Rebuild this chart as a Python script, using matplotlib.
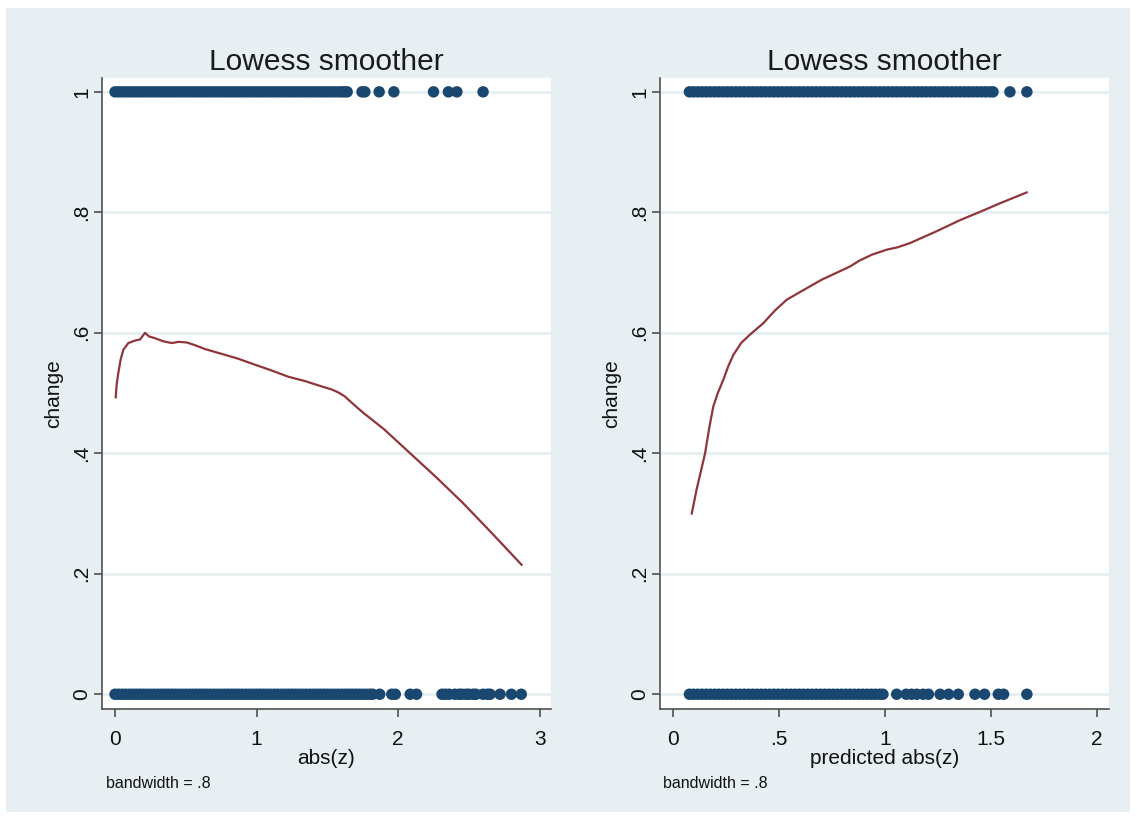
import matplotlib
matplotlib.use("Agg")
import matplotlib.pyplot as plt
from matplotlib.patches import Rectangle

plt.rcParams['font.family'] = ['Liberation Sans', 'DejaVu Sans']

# ---------------- data ----------------
# Left panel: change vs abs(z)
left_x1 = [0.000, 0.025, 0.050, 0.075, 0.100, 0.125, 0.150, 0.175, 0.200, 0.225,
           0.250, 0.275, 0.300, 0.325, 0.350, 0.375, 0.400, 0.425, 0.450, 0.475,
           0.500, 0.525, 0.550, 0.575, 0.600, 0.625, 0.650, 0.675, 0.700, 0.725,
           0.750, 0.775, 0.800, 0.825, 0.850, 0.875, 0.900, 0.925, 0.950, 0.975,
           1.000, 1.025, 1.050, 1.075, 1.100, 1.125, 1.150, 1.175, 1.200, 1.225,
           1.250, 1.275, 1.300, 1.325, 1.350, 1.375, 1.400, 1.425, 1.450, 1.475,
           1.500, 1.525, 1.550, 1.575, 1.600, 1.620, 1.640,
           1.745, 1.765, 1.866, 1.970, 2.250, 2.355, 2.415, 2.600]
left_x0 = [0.000, 0.025, 0.050, 0.075, 0.100, 0.125, 0.150, 0.175, 0.200, 0.225,
           0.250, 0.275, 0.300, 0.325, 0.350, 0.375, 0.400, 0.425, 0.450, 0.475,
           0.500, 0.525, 0.550, 0.575, 0.600, 0.625, 0.650, 0.675, 0.700, 0.725,
           0.750, 0.775, 0.800, 0.825, 0.850, 0.875, 0.900, 0.925, 0.950, 0.975,
           1.000, 1.025, 1.050, 1.075, 1.100, 1.125, 1.150, 1.175, 1.200, 1.225,
           1.250, 1.275, 1.300, 1.325, 1.350, 1.375, 1.400, 1.425, 1.450, 1.475,
           1.500, 1.525, 1.550, 1.575, 1.600, 1.625, 1.650, 1.675, 1.700, 1.725,
           1.750, 1.775, 1.800, 1.820, 1.870, 1.955, 1.980, 2.085, 2.130,
           2.310, 2.335, 2.360, 2.400, 2.430, 2.450, 2.480, 2.500, 2.530, 2.550,
           2.600, 2.630, 2.650, 2.720, 2.800, 2.870]
left_lowess_x = [0.005, 0.012, 0.023, 0.040, 0.059, 0.094, 0.140, 0.177, 0.212,
                 0.240, 0.283, 0.340, 0.400, 0.450, 0.507, 0.570, 0.636, 0.754,
                 0.870, 0.989, 1.100, 1.225, 1.340, 1.460, 1.530, 1.578, 1.620,
                 1.720, 1.755, 1.900, 2.085, 2.270, 2.460, 2.660, 2.872]
left_lowess_y = [0.493, 0.515, 0.533, 0.556, 0.572, 0.583, 0.587, 0.589, 0.600,
                 0.594, 0.591, 0.586, 0.583, 0.585, 0.584, 0.579, 0.573, 0.565,
                 0.557, 0.547, 0.538, 0.527, 0.520, 0.511, 0.506, 0.501, 0.495,
                 0.474, 0.467, 0.440, 0.400, 0.360, 0.317, 0.268, 0.215]

# Right panel: change vs predicted abs(z)
right_x1 = [0.076, 0.095, 0.115, 0.135, 0.155, 0.175, 0.195, 0.215, 0.235, 0.255,
            0.275, 0.295, 0.315, 0.335, 0.355, 0.375, 0.395, 0.415, 0.435, 0.455,
            0.475, 0.495, 0.515, 0.535, 0.555, 0.575, 0.595, 0.615, 0.635, 0.655,
            0.675, 0.695, 0.715, 0.735, 0.755, 0.775, 0.795, 0.815, 0.835, 0.855,
            0.875, 0.895, 0.915, 0.935, 0.955, 0.975, 0.995, 1.015, 1.035, 1.055,
            1.075, 1.095, 1.115, 1.135, 1.155, 1.175, 1.195, 1.215, 1.235, 1.255,
            1.275, 1.295, 1.315, 1.335, 1.355, 1.375, 1.395, 1.415, 1.435, 1.455,
            1.475, 1.495, 1.510, 1.590, 1.670]
right_x0 = [0.076, 0.095, 0.115, 0.135, 0.155, 0.175, 0.195, 0.215, 0.235, 0.255,
            0.275, 0.295, 0.315, 0.335, 0.355, 0.375, 0.395, 0.415, 0.435, 0.455,
            0.475, 0.495, 0.515, 0.535, 0.555, 0.575, 0.595, 0.615, 0.635, 0.655,
            0.675, 0.695, 0.715, 0.735, 0.755, 0.775, 0.795, 0.815, 0.835, 0.855,
            0.875, 0.895, 0.915, 0.935, 0.955, 0.975, 0.990,
            1.055, 1.100, 1.125, 1.150, 1.180, 1.205, 1.260, 1.300, 1.346,
            1.425, 1.470, 1.535, 1.560, 1.670]
right_lowess_x = [0.087, 0.110, 0.150, 0.170, 0.189, 0.210, 0.236, 0.260, 0.283,
                  0.320, 0.362, 0.425, 0.480, 0.536, 0.600, 0.700, 0.834, 0.880,
                  0.940, 1.008, 1.060, 1.118, 1.240, 1.354, 1.450, 1.543, 1.669]
right_lowess_y = [0.300, 0.340, 0.400, 0.443, 0.478, 0.500, 0.522, 0.545, 0.563,
                  0.583, 0.597, 0.616, 0.637, 0.655, 0.668, 0.688, 0.710, 0.720,
                  0.730, 0.738, 0.742, 0.749, 0.768, 0.787, 0.801, 0.815, 0.833]

yticks = [0, 0.2, 0.4, 0.6, 0.8, 1.0]
ytick_labels = ['0', '.2', '.4', '.6', '.8', '1']
left_xticks = [0, 1, 2, 3]
left_xtick_labels = ['0', '1', '2', '3']
right_xticks = [0, 0.5, 1.0, 1.5, 2.0]
right_xtick_labels = ['0', '.5', '1', '1.5', '2']

# ---------------- styling ----------------
NAVY = '#1a476f'
MAROON = '#90353b'
BG = '#e8eff2'
GRID = '#e6eff1'
AXC = '#505050'

fig = plt.figure(figsize=(11.37, 8.19), dpi=100)
fig.patch.set_facecolor('white')
fig.patches.append(Rectangle((6 / 1137, 1 - 812 / 819), (1130 - 6) / 1137, (812 - 8) / 819,
                             transform=fig.transFigure, facecolor=BG,
                             edgecolor='none', zorder=-10))

W = 449 / 1137
H = (709 - 78) / 819
B = 1 - 709 / 819

ax1 = fig.add_axes([102 / 1137, B, W, H])
ax2 = fig.add_axes([660 / 1137, B, W, H])


def style(ax, xlim, xticks, xlabels, xlabel, x1, x0, lx, ly, title):
    ax.set_facecolor('white')
    ax.set_axisbelow(True)
    ax.yaxis.grid(True, color=GRID, lw=2)
    ax.scatter(x1, [1] * len(x1), s=68, color=NAVY, edgecolors='none', zorder=3)
    ax.scatter(x0, [0] * len(x0), s=68, color=NAVY, edgecolors='none', zorder=3)
    ax.plot(lx, ly, color=MAROON, lw=1.6, zorder=4)
    ax.set_xlim(*xlim)
    ax.set_ylim(-0.0245, 1.023)
    ax.set_xticks(xticks)
    ax.set_xticklabels(xlabels)
    ax.set_yticks(yticks)
    ax.set_yticklabels(ytick_labels)
    for s in ['top', 'right']:
        ax.spines[s].set_visible(False)
    for s in ['left', 'bottom']:
        ax.spines[s].set_color(AXC)
        ax.spines[s].set_linewidth(1.2)
    ax.tick_params(axis='both', direction='out', length=6, width=1.2, color=AXC,
                   labelsize=15, labelcolor='#111111')
    ax.tick_params(axis='x', pad=9)
    ax.tick_params(axis='y', pad=2)
    for lbl in ax.get_yticklabels():
        lbl.set_rotation(90)
        lbl.set_va('center')
        lbl.set_ha('right')
    ax.set_xlabel(xlabel, fontsize=15, labelpad=0, color='#111111')
    ax.set_ylabel('change', fontsize=15, labelpad=6, color='#111111')
    ax.set_title(title, fontsize=21.5, pad=6, color='#1a1a1a')


style(ax1, (-0.092, 3.08), left_xticks, left_xtick_labels, 'abs(z)',
      left_x1, left_x0, left_lowess_x, left_lowess_y, 'Lowess smoother')
style(ax2, (-0.063, 2.058), right_xticks, right_xtick_labels, 'predicted abs(z)',
      right_x1, right_x0, right_lowess_x, right_lowess_y, 'Lowess smoother')

fig.text(106 / 1137, 1 - 783 / 819, 'bandwidth = .8', fontsize=11.5,
         va='center', ha='left', color='#111111')
fig.text(663 / 1137, 1 - 783 / 819, 'bandwidth = .8', fontsize=11.5,
         va='center', ha='left', color='#111111')

fig.savefig('out.png', dpi=100, facecolor=fig.get_facecolor())
